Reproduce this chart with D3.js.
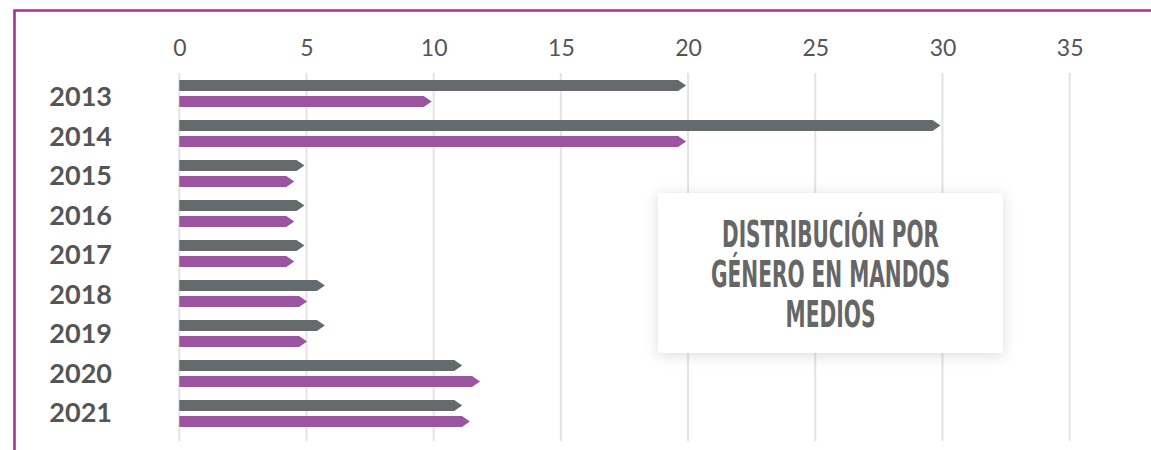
<!DOCTYPE html>
<html lang="es">
<head>
<meta charset="UTF-8">
<script src="https://d3js.org/d3.v7.min.js"></script>
<title>Distribución por género en mandos medios</title>
<style>
    body { margin: 0; background: #fff; }
    .grid-line { stroke: #e3e3e3; stroke-width: 2px; }
    .tick text { font-family: Lato, "Open Sans", sans-serif; font-size: 23px; fill: #555; }
    .year { font-family: Lato, sans-serif; font-weight: bold; font-size: 27px; fill: #555; }
    .title { font-family: "DejaVu Sans Condensed", "DejaVu Sans", sans-serif; font-weight: bold; font-size: 37px; fill: #666; }
</style>
</head>
<body>
<div id="chart"></div>
<script>
    // Data
    var years = ["2013", "2014", "2015", "2016", "2017", "2018", "2019", "2020", "2021"];
    var hombres = [20, 30, 5, 5, 5, 5.8, 5.8, 11.2, 11.2];
    var mujeres = [10, 20, 4.6, 4.6, 4.6, 5.1, 5.1, 11.9, 11.5];
    var xTicks = [0, 5, 10, 15, 20, 25, 30, 35];
    var titleLines = ["DISTRIBUCIÓN POR", "GÉNERO EN MANDOS", "MEDIOS"];

    var series = [
        { name: "Hombres", values: hombres, color: "#656b6c" },
        { name: "Mujeres", values: mujeres, color: "#9b549f" }
    ];

    var width = 1151, height = 450;

    var svg = d3.select("#chart")
        .append("svg")
        .attr("width", width)
        .attr("height", height);

    // purple frame (top and left)
    svg.append("path")
        .attr("d", "M14.5,450 L14.5,10.5 L1151,10.5")
        .attr("fill", "none")
        .attr("stroke", "#a62f9d")
        .attr("stroke-width", 2.6);

    // scales
    var x = d3.scaleLinear()
        .domain([0, 35])
        .range([179.3, 1069.7]);

    var y = d3.scaleBand()
        .domain(years)
        .range([73.5, 433.5])
        .paddingInner(0.325)
        .paddingOuter(0.1625);

    var ySub = d3.scaleBand()
        .domain(series.map(function (d) { return d.name; }))
        .range([0, y.bandwidth()])
        .paddingInner(0.3125);

    // the category labels sit on a slightly tighter pitch than the bars
    var yLabel = d3.scalePoint()
        .domain(years)
        .range([96, 412]);

    // grid lines
    svg.append("g")
        .selectAll("line")
        .data(xTicks)
        .enter().append("line")
        .attr("class", "grid-line")
        .attr("x1", function (d) { return x(d); })
        .attr("x2", function (d) { return x(d); })
        .attr("y1", 73)
        .attr("y2", 441);

    // top axis labels
    var xAxis = d3.axisTop(x)
        .tickValues(xTicks)
        .tickSize(0)
        .tickPadding(17);

    svg.append("g")
        .attr("transform", "translate(0,73)")
        .call(xAxis)
        .call(function (g) { g.select(".domain").remove(); });

    // year labels
    svg.selectAll(".year")
        .data(years)
        .enter().append("text")
        .attr("class", "year")
        .attr("x", 112)
        .attr("y", function (d) { return yLabel(d) + 10; })
        .attr("text-anchor", "end")
        .text(function (d) { return d; });

    // arrow shaped bars
    function arrow(x0, x1, y0, h) {
        var tip = 8;
        var body = Math.max(x0, x1 - tip);
        return "M" + x0 + "," + y0 +
            "L" + body + "," + y0 +
            "L" + x1 + "," + (y0 + h / 2) +
            "L" + body + "," + (y0 + h) +
            "L" + x0 + "," + (y0 + h) + "Z";
    }

    series.forEach(function (s) {
        svg.append("g")
            .selectAll("path")
            .data(years)
            .enter().append("path")
            .attr("fill", s.color)
            .attr("d", function (d, i) {
                return arrow(x(0), x(s.values[i]) - 2, y(d) + ySub(s.name), ySub.bandwidth());
            });
    });

    // title box with soft shadow
    var defs = svg.append("defs");
    var f = defs.append("filter")
        .attr("id", "shadow")
        .attr("x", "-20%").attr("y", "-20%")
        .attr("width", "140%").attr("height", "140%");
    f.append("feDropShadow")
        .attr("dx", 0).attr("dy", 2)
        .attr("stdDeviation", 7)
        .attr("flood-color", "#000")
        .attr("flood-opacity", 0.14);

    svg.append("rect")
        .attr("x", 658)
        .attr("y", 193)
        .attr("width", 345)
        .attr("height", 160)
        .attr("fill", "#fff")
        .attr("filter", "url(#shadow)");

    var widths = [217, 239, 90];
    svg.selectAll(".title")
        .data(titleLines)
        .enter().append("text")
        .attr("class", "title")
        .attr("x", 830.5)
        .attr("y", function (d, i) { return 247 + i * 40; })
        .attr("text-anchor", "middle")
        .attr("textLength", function (d, i) { return widths[i]; })
        .attr("lengthAdjust", "spacingAndGlyphs")
        .text(function (d) { return d; });
</script>
</body>
</html>
